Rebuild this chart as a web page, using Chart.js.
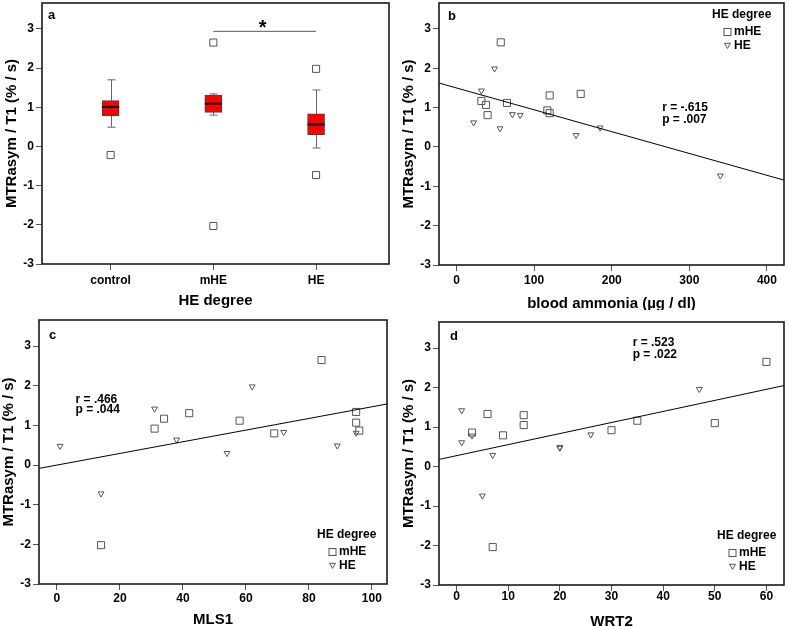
<!DOCTYPE html>
<html>
<head>
<meta charset="utf-8">
<script src="https://cdn.jsdelivr.net/npm/chart.js@4.4.1/dist/chart.umd.min.js"></script>
<style>
  body { margin: 0; background: #fff; width: 790px; height: 626px; position: relative; overflow: hidden; }
  canvas { position: absolute; }
</style>
</head>
<body>
<canvas id="pa" width="395" height="313" style="left:0;top:-3px"></canvas>
<canvas id="pb" width="395" height="313" style="left:395px;top:-3px"></canvas>
<canvas id="pc" width="395" height="316" style="left:0;top:310px"></canvas>
<canvas id="pd" width="395" height="316" style="left:395px;top:310px"></canvas>
<script>
// panel a: MTRasym / T1 by HE degree (box plot)
let groups = ['control', 'mHE', 'HE'];
let whisker_lo = [0.49, 0.80, -0.04];
let q1 = [0.78, 0.87, 0.30];
let medians = [1.01, 1.09, 0.56];
let q3 = [1.17, 1.31, 0.83];
let whisker_hi = [1.70, 1.34, 1.44];
let outlier_grp = [1, 2, 2, 3, 3];
let outlier_val = [-0.22, 2.65, -2.03, 1.98, -0.73];
let y_ticks = [-3, -2, -1, 0, 1, 2, 3];
let group_ticks = [1, 2, 3];

// panel b: blood ammonia
let amm_mhe = [57, 32, 38, 40, 65, 117, 120, 120, 160];
let mtr_amm_mhe = [2.66, 1.17, 1.07, 0.81, 1.12, 0.93, 0.86, 1.31, 1.35];
let amm_he = [49, 32, 22, 56, 72, 82, 154, 185, 340];
let mtr_amm_he = [1.99, 1.43, 0.62, 0.47, 0.83, 0.81, 0.30, 0.49, -0.73];
let amm_ticks = [0, 100, 200, 300, 400];
let fit_amm = [1.50, -0.00555]; // intercept, slope

// panel c: MLS1
let mls_mhe = [84, 31, 34, 42, 58, 69, 95, 95, 96, 14];
let mtr_mls_mhe = [2.65, 0.92, 1.17, 1.31, 1.12, 0.80, 1.34, 1.07, 0.87, -2.02];
let mls_he = [1, 31, 38, 62, 54, 72, 89, 95, 14];
let mtr_mls_he = [0.48, 1.42, 0.64, 1.98, 0.30, 0.83, 0.49, 0.81, -0.72];
let mls_ticks = [0, 20, 40, 60, 80, 100];
let fit_mls = [0.0, 0.0147];

// panel d: WRT2
let wrt_mhe = [60, 6, 13, 13, 3, 9, 30, 35, 50, 7];
let mtr_wrt_mhe = [2.65, 1.33, 1.30, 1.05, 0.86, 0.79, 0.92, 1.16, 1.10, -2.04];
let wrt_he = [1, 1, 3, 7, 5, 20, 20, 26, 47];
let mtr_wrt_he = [1.42, 0.61, 0.78, 0.29, -0.74, 0.47, 0.49, 0.81, 1.96];
let wrt_ticks = [0, 10, 20, 30, 40, 50, 60];
let fit_wrt = [0.275, 0.028];

const FONT = '"Liberation Sans", Arial, sans-serif';
Chart.defaults.font.family = FONT;
Chart.defaults.color = '#000';
Chart.defaults.animation = false;

function y_axis(width, title_pad) {
    return {
        type: 'linear', min: -3, max: 3.66,
        afterFit: (s) => { s.width = width; s.paddingTop = 0; s.paddingBottom = 0; },
        afterBuildTicks: (s) => { s.ticks = y_ticks.map((v) => ({ value: v })); },
        ticks: { font: { size: 12, weight: 'bold' }, color: '#000', padding: 2 },
        grid: { drawOnChartArea: false, tickLength: 6, tickColor: '#555' },
        border: { display: false },
        title: {
            display: true, text: 'MTRasym / T1 (% / s)', color: '#000',
            font: { size: 15, weight: 'bold' }, padding: { top: title_pad, bottom: 0 },
        },
    };
}
function x_axis(min, max, tick_list, title, height, lbl_pad, title_pad, cb) {
    return {
        type: 'linear', min: min, max: max, offset: false,
        afterFit: (s) => { s.height = height; s.paddingLeft = 0; s.paddingRight = 0; },
        afterBuildTicks: (s) => { s.ticks = tick_list.map((v) => ({ value: v })); },
        ticks: { font: { size: 12, weight: 'bold' }, color: '#000', padding: lbl_pad, maxRotation: 0, callback: cb || ((v) => v) },
        grid: { drawOnChartArea: false, tickLength: 6, tickColor: '#555', offset: false },
        border: { display: false },
        title: {
            display: true, text: title, color: '#000',
            font: { size: 15, weight: 'bold' }, padding: { top: 0, bottom: title_pad },
        },
    };
}

function tri(ctx, x, y, r) {
    ctx.beginPath();
    ctx.moveTo(x, y + r);
    ctx.lineTo(x - r * 0.866, y - r / 2);
    ctx.lineTo(x + r * 0.866, y - r / 2);
    ctx.closePath();
    ctx.stroke();
}

// frame, panel letter, r / p text, legend
const decor = {
    id: 'decor',
    afterDraw(chart, args, o) {
        const ctx = chart.ctx;
        const ca = chart.chartArea;
        const sx = chart.scales.x, sy = chart.scales.y;
        ctx.save();
        ctx.strokeStyle = '#1a1a1a';
        ctx.lineWidth = 1.6;
        ctx.strokeRect(ca.left, ca.top, ca.right - ca.left, ca.bottom - ca.top);
        ctx.fillStyle = '#000';
        ctx.textBaseline = 'middle';
        ctx.textAlign = 'left';
        ctx.font = `bold 13px ${FONT}`;
        ctx.fillText(o.letter, ca.left + o.letter_at[0], ca.top + o.letter_at[1]);
        if (o.stat) {
            ctx.font = `bold 12px ${FONT}`;
            let px = sx.getPixelForValue(o.stat.x);
            ctx.fillText(o.stat.r, px, sy.getPixelForValue(o.stat.y1));
            ctx.fillText(o.stat.p, px, sy.getPixelForValue(o.stat.y2));
        }
        if (o.legend) {
            let [lx, ly] = o.legend;
            ctx.font = `bold 12px ${FONT}`;
            ctx.fillText('HE degree', lx, ly);
            ctx.strokeStyle = '#555';
            ctx.lineWidth = 1;
            ctx.strokeRect(lx + 12, ly + 13.5, 7, 7);
            ctx.fillText('mHE', lx + 22, ly + 17);
            tri(ctx, lx + 15.5, ly + 30, 3.4);
            ctx.fillText('HE', lx + 22, ly + 31);
        }
        if (o.sig) {
            let x1 = sx.getPixelForValue(o.sig.from), x2 = sx.getPixelForValue(o.sig.to);
            let yl = sy.getPixelForValue(o.sig.y);
            ctx.strokeStyle = '#555';
            ctx.lineWidth = 1;
            ctx.beginPath();
            ctx.moveTo(x1, yl + 0.5);
            ctx.lineTo(x2, yl + 0.5);
            ctx.stroke();
            ctx.font = `bold 20px ${FONT}`;
            ctx.textAlign = 'center';
            ctx.textBaseline = 'alphabetic';
            ctx.fillText('*', (x1 + x2) / 2 - 2, yl + 3);
        }
        ctx.restore();
    },
};

// whiskers under the boxes, medians on top
const whiskers = {
    id: 'whiskers',
    beforeDatasetsDraw(chart) {
        const ctx = chart.ctx, sx = chart.scales.x, sy = chart.scales.y;
        ctx.save();
        ctx.strokeStyle = '#666';
        ctx.lineWidth = 1;
        groups.forEach((g, i) => {
            let cx = Math.round(sx.getPixelForValue(i + 1)) + 0.5;
            let hi = sy.getPixelForValue(whisker_hi[i]), lo = sy.getPixelForValue(whisker_lo[i]);
            ctx.beginPath();
            ctx.moveTo(cx, hi); ctx.lineTo(cx, lo);
            ctx.moveTo(cx - 4, hi); ctx.lineTo(cx + 4, hi);
            ctx.moveTo(cx - 4, lo); ctx.lineTo(cx + 4, lo);
            ctx.stroke();
        });
        ctx.restore();
    },
    afterDatasetsDraw(chart) {
        const ctx = chart.ctx, sx = chart.scales.x, sy = chart.scales.y;
        ctx.save();
        ctx.strokeStyle = '#000';
        ctx.lineWidth = 2;
        groups.forEach((g, i) => {
            let cx = sx.getPixelForValue(i + 1);
            let my = sy.getPixelForValue(medians[i]);
            ctx.beginPath();
            ctx.moveTo(cx - 8.5, my); ctx.lineTo(cx + 8.5, my);
            ctx.stroke();
        });
        ctx.restore();
    },
};

function pts(xs, ys) {
    return xs.map((x, i) => ({ x: x, y: ys[i] }));
}
function mhe_set(xs, ys) {
    return {
        label: 'mHE', data: pts(xs, ys), pointStyle: 'rect', pointRadius: 5,
        pointBorderColor: '#555', pointBackgroundColor: 'rgba(0,0,0,0)', pointBorderWidth: 1,
    };
}
function he_set(xs, ys) {
    return {
        label: 'HE', data: pts(xs, ys), pointStyle: 'triangle', pointRotation: 180, pointRadius: 3.4,
        pointBorderColor: '#555', pointBackgroundColor: 'rgba(0,0,0,0)', pointBorderWidth: 1,
    };
}
function fit_set(fit, x0, x1) {
    return {
        label: 'fit', data: [{ x: x0, y: fit[0] + fit[1] * x0 }, { x: x1, y: fit[0] + fit[1] * x1 }],
        showLine: true, borderColor: '#000', borderWidth: 1, pointRadius: 0,
    };
}

// panel a
new Chart(document.getElementById('pa'), {
    type: 'bar',
    data: {
        datasets: [
            {
                type: 'bar', label: 'box', data: groups.map((g, i) => ({ x: i + 1, y: [q1[i], q3[i]] })),
                backgroundColor: '#ff0000', borderColor: '#444', borderWidth: 1, borderSkipped: false,
                barThickness: 17,
            },
            {
                type: 'scatter', label: 'outliers', data: pts(outlier_grp, outlier_val),
                pointStyle: 'rect', pointRadius: 5, pointBorderColor: '#555',
                pointBackgroundColor: 'rgba(0,0,0,0)', pointBorderWidth: 1,
            },
        ],
    },
    options: {
        responsive: false, events: [],
        layout: { padding: { top: 6, right: 5, left: 0, bottom: 0 } },
        scales: {
            x: x_axis(0.332, 3.71, group_ticks, 'HE degree', 46, 3, 0, (v) => groups[v - 1]),
            y: y_axis(42, 3),
        },
        plugins: {
            legend: { display: false }, tooltip: { enabled: false },
            decor: { letter: 'a', letter_at: [6, 12], sig: { from: 2, to: 3, y: 2.95 } },
        },
    },
    plugins: [whiskers, decor],
});

function scatter_panel(id, xm, ym, xh, yh, fit, xmin, xmax, xt, xtitle, o) {
    new Chart(document.getElementById(id), {
        type: 'scatter',
        data: { datasets: [fit_set(fit, xmin, xmax), mhe_set(xm, ym), he_set(xh, yh)] },
        options: {
            responsive: false, events: [],
            layout: { padding: o.pad },
            scales: {
                x: x_axis(xmin, xmax, xt, xtitle, o.xh, o.lbl_pad, o.title_pad),
                y: y_axis(o.yw, o.ytitle_pad),
            },
            plugins: {
                legend: { display: false }, tooltip: { enabled: false },
                decor: { letter: o.letter, letter_at: o.letter_at, stat: o.stat, legend: o.legend },
            },
        },
        plugins: [decor],
    });
}

scatter_panel('pb', amm_mhe, mtr_amm_mhe, amm_he, mtr_amm_he, fit_amm, -22.6, 422, amm_ticks,
    'blood ammonia (µg / dl)', {
        pad: { top: 6, right: 2, left: 0, bottom: 0 }, xh: 45, yw: 44, lbl_pad: 2, title_pad: -2.5, ytitle_pad: 5,
        letter: 'b', letter_at: [9, 13],
        stat: { x: 265, y1: 1.0, y2: 0.70, r: 'r = -.615', p: 'p = .007' },
        legend: [317, 18],
    });

scatter_panel('pc', mls_mhe, mtr_mls_mhe, mls_he, mtr_mls_he, fit_mls, -5.7, 104.8, mls_ticks,
    'MLS1', {
        pad: { top: 10, right: 8, left: 0, bottom: 0 }, xh: 42, yw: 39, lbl_pad: 1, title_pad: -3, ytitle_pad: 0,
        letter: 'c', letter_at: [10, 15],
        stat: { x: 5.9, y1: 1.65, y2: 1.39, r: 'r = .466', p: 'p = .044' },
        legend: [317, 225],
    });

scatter_panel('pd', wrt_mhe, mtr_wrt_mhe, wrt_he, mtr_wrt_he, fit_wrt, -3.4, 63.4, wrt_ticks,
    'WRT2', {
        pad: { top: 12, right: 2, left: 0, bottom: 0 }, xh: 41, yw: 44, lbl_pad: -2, title_pad: -5, ytitle_pad: 5,
        letter: 'd', letter_at: [11, 14],
        stat: { x: 34.1, y1: 3.14, y2: 2.82, r: 'r = .523', p: 'p = .022' },
        legend: [322, 226],
    });
</script>
</body>
</html>
